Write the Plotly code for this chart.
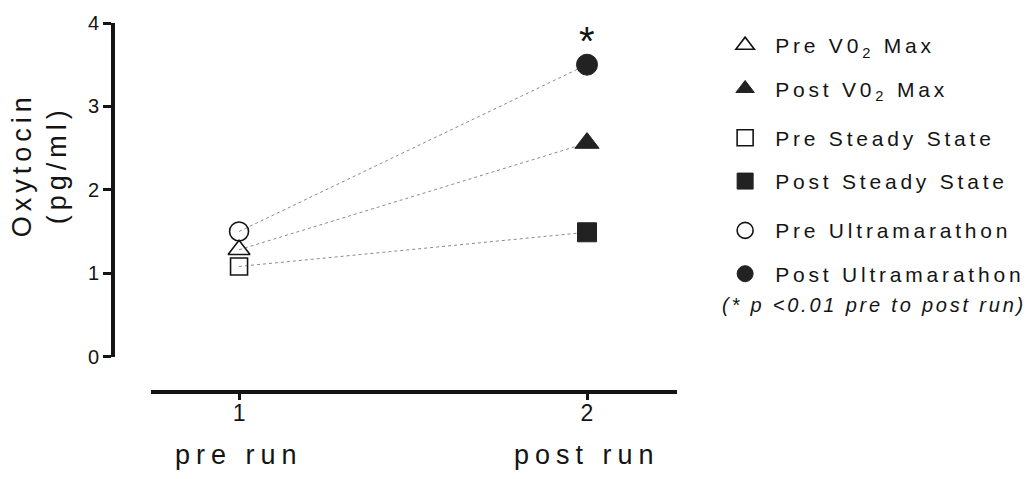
import plotly.graph_objects as go

# ---- data ----
x_vals = [1, 2]
x_tick_labels = ["1", "2"]
x_categories = ["pre run", "post run"]

vo2max = [1.28, 2.56]
steady_state = [1.08, 1.49]
ultramarathon = [1.50, 3.50]

legend_names = {
    "vo2": ["Pre V0<sub>2</sub> Max", "Post V0<sub>2</sub> Max"],
    "ss": ["Pre Steady State", "Post Steady State"],
    "um": ["Pre Ultramarathon", "Post Ultramarathon"],
}
y_title = ["Oxytocin", "(pg/ml)"]
sig_note = "(* p <0.01 pre to post run)"

FONT = "Liberation Sans, Arial, sans-serif"
INK = "#141414"


def styled(t, spacing, size=None, shift=None):
    st = f"letter-spacing:{spacing}px"
    if size:
        st += f";font-size:{size}px"
    if shift:
        st += f";baseline-shift:{shift}px"
    return f'<span style="{st}">{t}</span>'


fig = go.Figure()

groups = [
    ("vo2", vo2max, "triangle-up", 19),
    ("ss", steady_state, "square", 17),
    ("um", ultramarathon, "circle", 19),
]

for key, vals, sym, size in groups:
    fig.add_trace(go.Scatter(
        x=x_vals, y=vals, mode="lines",
        line=dict(color="#8a8a8a", width=1, dash="dot"),
        showlegend=False, hoverinfo="skip",
    ))

for key, vals, sym, size in groups:
    names = legend_names[key]
    fig.add_trace(go.Scatter(
        x=[x_vals[0]], y=[vals[0]], mode="markers",
        name=styled(names[0], 3.8, 21, 4), legendgroup=key,
        marker=dict(symbol=sym + "-open", size=size, color=INK,
                    line=dict(width=1.6, color=INK)),
    ))
    fig.add_trace(go.Scatter(
        x=[x_vals[1]], y=[vals[1]], mode="markers",
        name=styled(names[1], 3.8, 21, 4), legendgroup=key,
        marker=dict(symbol=sym, size=size + 2, color="#222222",
                    line=dict(width=1, color="#222222")),
    ))

# significance star above post ultramarathon
fig.add_annotation(x=x_vals[1], y=ultramarathon[1], xref="x", yref="y",
                   text="*", showarrow=False, yanchor="bottom", yshift=0,
                   font=dict(family=FONT, size=40, color=INK))

# category labels below x tick labels
for xv, cat in zip(x_vals, x_categories):
    fig.add_annotation(x=xv, y=-0.17, xref="x", yref="paper",
                       text=styled(cat, 6), showarrow=False,
                       yanchor="middle", xanchor="center",
                       font=dict(family=FONT, size=27, color=INK))

# y axis title
fig.add_annotation(x=-0.131, y=0.615, xref="paper", yref="paper",
                   text=styled(y_title[0], 5) + "<br>" + styled(y_title[1], 5),
                   textangle=-90, showarrow=False,
                   xanchor="center", yanchor="middle",
                   font=dict(family=FONT, size=27, color=INK))

# significance note
fig.add_annotation(x=1.076, y=0.236, xref="paper", yref="paper",
                   text="<i>" + styled(sig_note, 2.8) + "</i>",
                   showarrow=False, xanchor="left", yanchor="middle",
                   font=dict(family=FONT, size=20, color=INK))

fig.update_layout(
    width=1028, height=471,
    margin=dict(l=105, r=359, t=15, b=87, autoexpand=False),
    paper_bgcolor="white", plot_bgcolor="white",
    font=dict(family=FONT, color=INK),
    showlegend=True,
    legend=dict(x=1.0676, y=0.63, xanchor="left", yanchor="middle",
                traceorder="grouped", tracegroupgap=6,
                font=dict(family=FONT, size=31, color=INK),
                itemwidth=50, bgcolor="rgba(0,0,0,0)"),
    xaxis=dict(domain=[0.0674, 1], range=[0.747, 2.2586],
               anchor="free", position=0, automargin=False,
               tickvals=x_vals, ticktext=x_tick_labels,
               showline=True, linewidth=4, linecolor=INK,
               ticks="outside", ticklen=6, tickwidth=3, tickcolor=INK,
               ticklabelstandoff=-7,
               showgrid=False, zeroline=False,
               tickfont=dict(family=FONT, size=23, color=INK)),
    yaxis=dict(domain=[0.0962, 1], range=[0, 4], dtick=1,
               anchor="free", position=0, automargin=False,
               showline=True, linewidth=4, linecolor=INK,
               ticks="outside", ticklen=8, tickwidth=3, tickcolor=INK,
               showgrid=False, zeroline=False,
               tickfont=dict(family=FONT, size=20, color=INK)),
)

fig.write_html("out.html")
